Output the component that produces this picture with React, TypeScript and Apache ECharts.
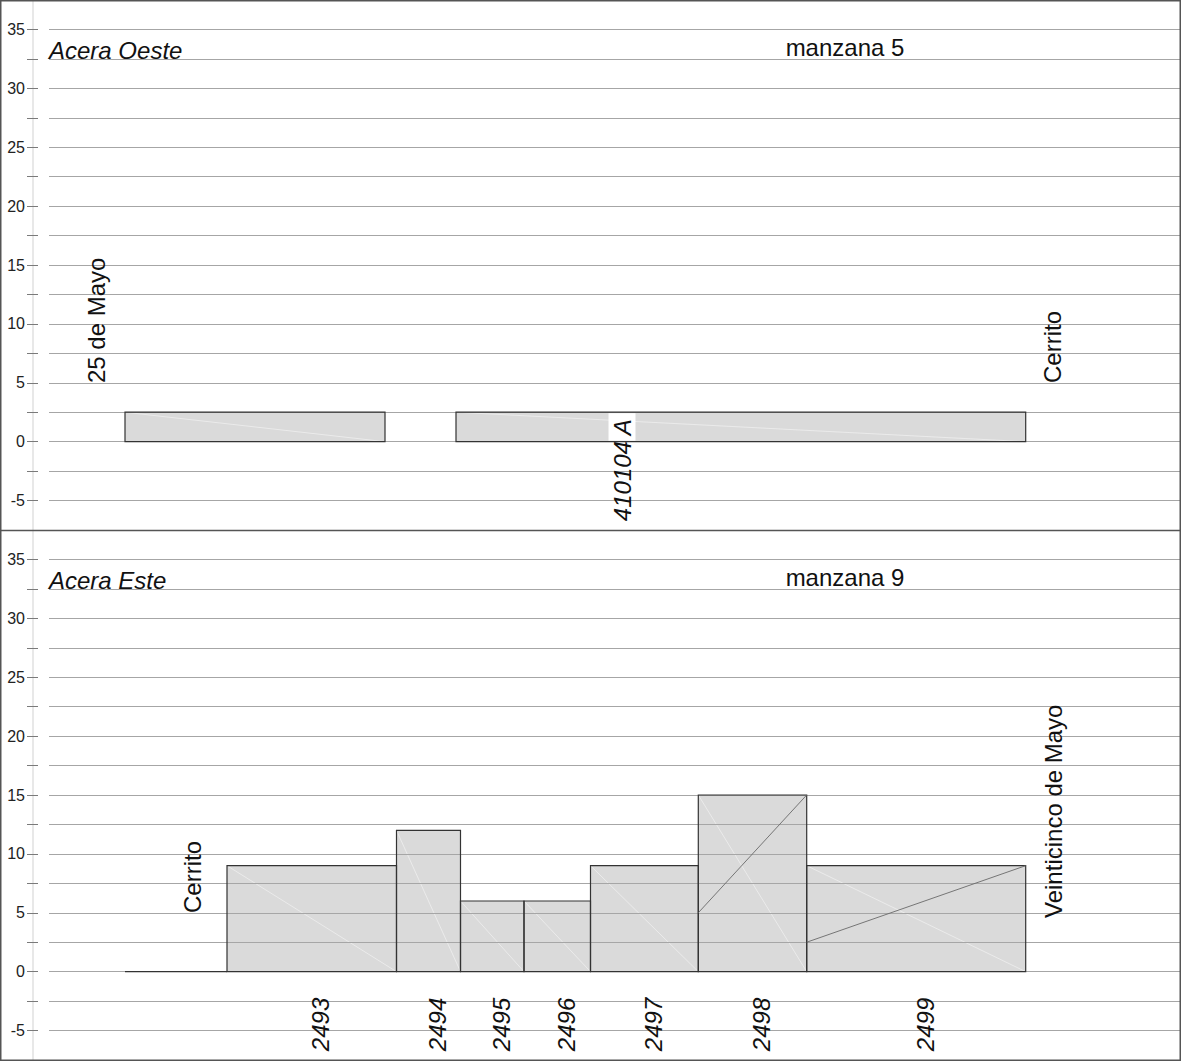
import React, { useEffect, useRef } from 'react';
import * as echarts from 'echarts';

// ---- axis ----
const X_MIN = -7.6;
const X_MAX = 105.5;
const Y_MIN = -7.5;
const Y_MAX = 37.5;
const Y_STEP = 2.5;
const LABEL_STEP = 5;

// ---- Acera Oeste (manzana 5) ----
const westStart = [0, 33.1];
const westEnd = [26, 90.07];
const westHeight = [2.5, 2.5];
const westLabels = ['', '410104 A'];
const westLabelX = [null, 49.7];

// ---- Acera Este (manzana 9) ----
const eastStart = [0, 10.2, 27.15, 33.55, 39.9, 46.55, 57.33, 68.17];
const eastEnd = [10.2, 27.15, 33.55, 39.9, 46.55, 57.33, 68.17, 90.07];
const eastHeight = [0, 9, 12, 6, 6, 9, 15, 9];
const eastLabels = ['', '2493', '2494', '2495', '2496', '2497', '2498', '2499'];

// diagonal lines inside lots: [x0, y0, x1, y1]
const eastDiagonals = [
  [57.33, 5, 68.17, 15],
  [68.17, 2.5, 90.07, 9],
];

const LABEL_Y = -6.75;
const FONT = '"Liberation Sans", Arial, sans-serif';

function lotData(start: number[], end: number[], height: number[]) {
  return start.map((s, i) => [s, end[i], height[i]]);
}

function makeFill(labels: string[], labelX: (number | null)[] | null) {
  return (params: any, api: any) => {
    const i = params.dataIndex;
    const x0 = api.value(0);
    const x1 = api.value(1);
    const h = api.value(2);
    const p0 = api.coord([x0, 0]);
    const p1 = api.coord([x1, h]);
    const left = p0[0];
    const right = p1[0];
    const top = p1[1];
    const bottom = p0[1];
    const children: any[] = [];
    if (h > 0) {
      children.push({
        type: 'rect',
        shape: { x: left, y: top, width: right - left, height: bottom - top },
        style: { fill: '#dadada' },
      });
      children.push({
        type: 'line',
        shape: { x1: left, y1: top, x2: right, y2: bottom },
        style: { stroke: '#ffffff', lineWidth: 1, opacity: 0.45 },
      });
      if (labelX && labelX[i] != null && labels[i]) {
        const lx = api.coord([labelX[i], 0])[0];
        children.push({
          type: 'rect',
          shape: { x: lx - 13.5, y: top + 1, width: 27, height: bottom - top - 2 },
          style: { fill: '#ffffff' },
        });
      }
    }
    return { type: 'group', children };
  };
}

const strokeItem = (params: any, api: any) => {
  const x0 = api.value(0);
  const x1 = api.value(1);
  const h = api.value(2);
  const p0 = api.coord([x0, 0]);
  const p1 = api.coord([x1, h]);
  if (h > 0) {
    return {
      type: 'rect',
      shape: { x: p0[0], y: p1[1], width: p1[0] - p0[0], height: p0[1] - p1[1] },
      style: { fill: 'none', stroke: '#333333', lineWidth: 1.2 },
    };
  }
  return {
    type: 'line',
    shape: { x1: p0[0], y1: p0[1], x2: p1[0], y2: p0[1] },
    style: { stroke: '#333333', lineWidth: 1.2 },
  };
};

function makeLabel(labels: string[], labelX: (number | null)[] | null) {
  return (params: any, api: any) => {
    const i = params.dataIndex;
    const text = labels[i];
    if (!text) return { type: 'group', children: [] };
    let px: number;
    if (labelX && labelX[i] != null) {
      px = api.coord([labelX[i], 0])[0];
    } else {
      px = api.coord([(api.value(0) + api.value(1)) / 2, 0])[0] + 9;
    }
    const py = api.coord([0, LABEL_Y])[1];
    return {
      type: 'text',
      x: px,
      y: py,
      rotation: Math.PI / 2,
      style: {
        text,
        x: 0,
        y: 0,
        font: `italic 24px ${FONT}`,
        fill: '#111111',
        align: 'left',
        verticalAlign: 'middle',
      },
    };
  };
}

const diagItem = (params: any, api: any) => {
  const a = api.coord([api.value(0), api.value(1)]);
  const b = api.coord([api.value(2), api.value(3)]);
  return {
    type: 'line',
    shape: { x1: a[0], y1: a[1], x2: b[0], y2: b[1] },
    style: { stroke: '#6a6a6a', lineWidth: 0.9 },
  };
};

function yAxes(gridIndex: number) {
  return [
    {
      type: 'value',
      gridIndex,
      position: 'left',
      min: Y_MIN,
      max: Y_MAX,
      interval: Y_STEP,
      offset: 16,
      z: 0,
      axisLine: { show: true, onZero: false, lineStyle: { color: '#e8e8e8', width: 2 } },
      axisTick: { show: false },
      axisLabel: { show: false },
      splitLine: { show: false },
    },
    {
      type: 'value',
      gridIndex,
      position: 'left',
      min: Y_MIN,
      max: Y_MAX,
      interval: Y_STEP,
      offset: 11,
      z: 1,
      axisLine: { show: true, onZero: false, lineStyle: { color: 'rgba(0,0,0,0)', width: 1 } },
      axisTick: { show: true, inside: false, length: 11, lineStyle: { color: '#7a7a7a', width: 1 } },
      axisLabel: {
        show: true,
        margin: 13,
        color: '#222222',
        fontSize: 16,
        fontFamily: FONT,
        formatter: (v: number) => (Math.abs(v % LABEL_STEP) < 1e-9 ? String(v) : ''),
      },
      splitLine: { show: true, lineStyle: { color: '#a6a6a6', width: 1 } },
    },
  ];
}

function panelSeries(
  axisIndex: number,
  start: number[],
  end: number[],
  height: number[],
  labels: string[],
  labelX: (number | null)[] | null
) {
  const data = lotData(start, end, height);
  const base = { type: 'custom', xAxisIndex: axisIndex, yAxisIndex: axisIndex * 2 + 1, data };
  return [
    { ...base, z: 0, renderItem: makeFill(labels, labelX) },
    { ...base, z: 3, renderItem: strokeItem },
    { ...base, z: 5, renderItem: makeLabel(labels, labelX) },
  ];
}

function txt(text: string, x: number, y: number, opts: any = {}) {
  return {
    type: 'text',
    x,
    y,
    rotation: opts.rotation || 0,
    z: 50,
    style: {
      text,
      font: `${opts.italic ? 'italic ' : ''}24px ${FONT}`,
      fill: '#111111',
      align: opts.align || 'left',
      verticalAlign: 'middle',
    },
  };
}

export default function App() {
  const ref = useRef<HTMLDivElement>(null);
  useEffect(() => {
    if (!ref.current) return;
    const chart = echarts.init(ref.current, null, { renderer: 'svg' });
    const option: any = {
      animation: false,
      backgroundColor: '#ffffff',
      grid: [
        { left: 49, top: 0, width: 1131, height: 530 },
        { left: 49, top: 530, width: 1131, height: 530 },
      ],
      xAxis: [0, 1].map((g) => ({
        type: 'value',
        gridIndex: g,
        min: X_MIN,
        max: X_MAX,
        show: false,
      })),
      yAxis: [...yAxes(0), ...yAxes(1)],
      series: [
        ...panelSeries(0, westStart, westEnd, westHeight, westLabels, westLabelX),
        ...panelSeries(1, eastStart, eastEnd, eastHeight, eastLabels, null),
        {
          type: 'custom',
          xAxisIndex: 1,
          yAxisIndex: 3,
          z: 4,
          data: eastDiagonals,
          renderItem: diagItem,
        },
      ],
      graphic: [
        txt('Acera Oeste', 49, 50.4, { italic: true }),
        txt('manzana 5', 845, 47.4, { align: 'center' }),
        txt('Acera Este', 49, 580.4, { italic: true }),
        txt('manzana 9', 845, 577.4, { align: 'center' }),
        txt('25 de Mayo', 96, 383, { rotation: Math.PI / 2 }),
        txt('Cerrito', 1052, 383, { rotation: Math.PI / 2 }),
        txt('Cerrito', 192, 913, { rotation: Math.PI / 2 }),
        txt('Veinticinco de Mayo', 1053, 918, { rotation: Math.PI / 2 }),
        {
          type: 'rect',
          z: 60,
          shape: { x: 0.75, y: 0.75, width: 1179.5, height: 1059.5 },
          style: { fill: 'none', stroke: '#555555', lineWidth: 1.5 },
        },
        {
          type: 'line',
          z: 60,
          shape: { x1: 0.75, y1: 530.5, x2: 1180.25, y2: 530.5 },
          style: { stroke: '#555555', lineWidth: 1.5 },
        },
      ],
    };
    chart.setOption(option);
    return () => chart.dispose();
  }, []);
  return (
    <div
      ref={ref}
      style={{ position: 'fixed', left: 0, top: 0, width: 1182, height: 1062, background: '#ffffff' }}
    />
  );
}
